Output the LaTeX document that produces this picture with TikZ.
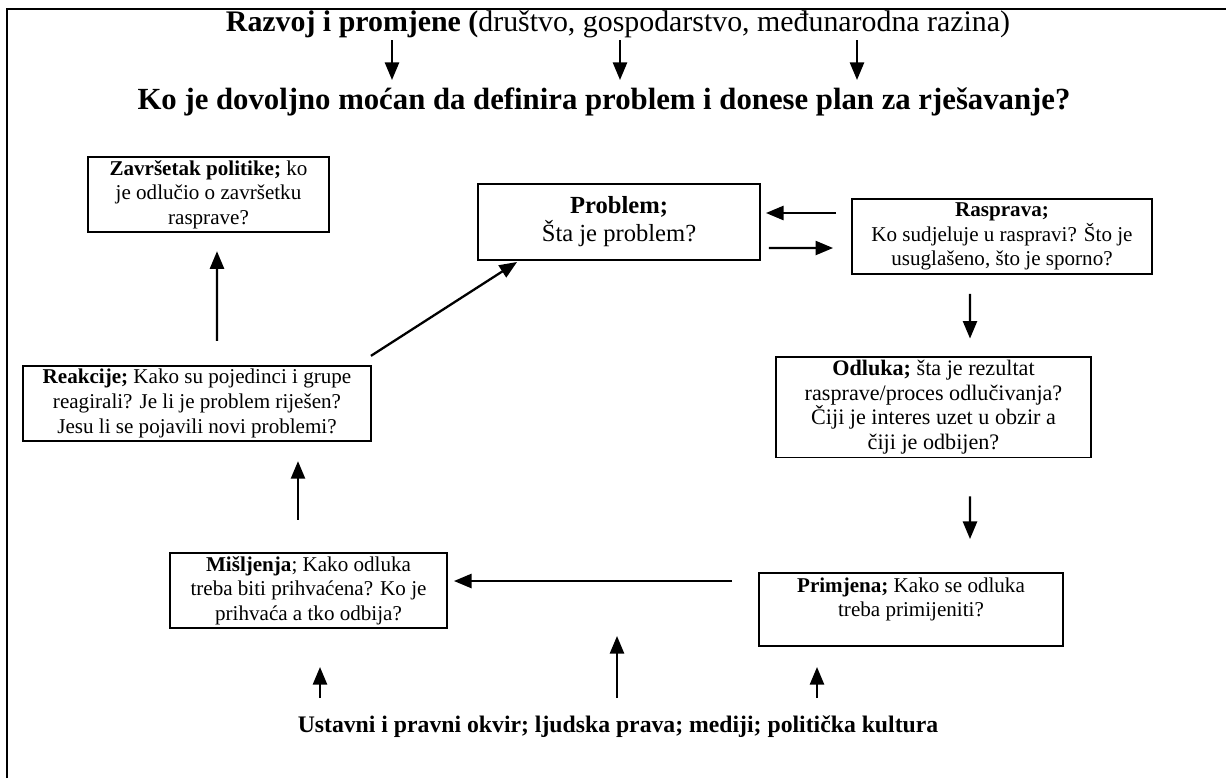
\documentclass[tikz,border=0pt]{standalone}
\usepackage{fontspec}
\setmainfont{Liberation Serif}
\usepackage{tikz}
\usetikzlibrary{shapes,decorations}
\usetikzlibrary{arrows.meta, calc}

\begin{document}
\begin{tikzpicture}[x=0.02cm, y=-0.02cm,
    box/.style={draw, line width=1.1pt, align=center, inner sep=2pt,
                font=\fontsize{12}{14}\selectfont},
    arr/.style={-{Triangle[length=10pt,width=8pt]}, line width=1.3pt}]

\useasboundingbox (0,0) rectangle (1226,778);

% Draw frame (left and top only)
\draw[line width=1.2pt] (7,778) -- (7,9) -- (1226,9);

% Titles
\node (t1) at (618,24) {\fontsize{17}{19}\selectfont\textbf{Razvoj i promjene (}društvo, gospodarstvo, međunarodna razina)};
\node (t2) at (604,102) {\fontsize{17.5}{19}\selectfont\textbf{Ko je dovoljno moćan da definira problem i donese plan za rješavanje?}};

% Boxes of the cycle
\node[box, minimum width=4.82cm, minimum height=1.5cm] (zav) at (208.5,194.5)
    {\textbf{Završetak politike;} ko\\je odlučio o završetku\\rasprave?};
\node[box, minimum width=5.64cm, minimum height=1.52cm, font=\fontsize{14}{16}\selectfont] (prob) at (619,222)
    {\textbf{Problem;}\\Šta je problem?};
\node[box, minimum width=6cm, minimum height=1.5cm] (rasp) at (1002,236.5)
    {\textbf{Rasprava;}\\Ko sudjeluje u raspravi? Što je\\usuglašeno, što je sporno?};
\node[box, minimum width=6.3cm, minimum height=2cm, font=\fontsize{12.6}{14}\selectfont] (odl) at (933.5,407)
    {\textbf{Odluka;} šta je rezultat\\rasprave/proces odlučivanja?\\Čiji je interes uzet u obzir a\\čiji je odbijen?};
\node[box, minimum width=6.08cm, minimum height=1.46cm] (prim) at (911,609.5)
    {\textbf{Primjena;} Kako se odluka\\treba primijeniti?\\\mbox{}};
\node[box, minimum width=5.54cm, minimum height=1.5cm] (misl) at (308.5,590.5)
    {\textbf{Mišljenja}; Kako odluka\\treba biti prihvaćena? Ko je\\prihvaća a tko odbija?};
\node[box, minimum width=6.96cm, minimum height=1.5cm] (reak) at (197,403.5)
    {\textbf{Reakcije;} Kako su pojedinci i grupe\\reagirali? Je li je problem riješen?\\Jesu li se pojavili novi problemi?};

% Bottom text
\node[font=\fontsize{13.5}{15}\selectfont\bfseries] (ukv) at (618,727)
    {Ustavni i pravni okvir; ljudska prava; mediji; politička kultura};

% Arrows from the first title to the second
\foreach \dx in {-226, 2, 239}
{
    \draw[arr] ($(t1.center)+(\dx,16)$) -- ($(t2.center)+(\dx+14,-22)$);
}

% Arrows of the cycle
\draw[arr] ($(reak.north)+(20,-24)$) -- ($(zav.south)+(8.5,18)$);
\draw[arr] ($(reak.north east)+(-1,-9)$) -- ($(prob.south west)+(40,1)$);
\draw[arr] ($(rasp.west)+(-15,-23.5)$) -- ($(prob.east)+(5,-9)$);
\draw[arr] ($(prob.east)+(8,26)$) -- ($(rasp.west)+(-18,11.5)$);
\draw[arr] ($(rasp.south)+(-32,19)$) -- ($(odl.north)+(36.5,-17)$);
\draw[arr] ($(odl.south)+(36.5,38)$) -- ($(prim.north)+(59,-33)$);
\draw[arr] ($(prim.west)+(-26,-28.5)$) -- ($(misl.east)+(6,-9.5)$);
\draw[arr] ($(misl.north)+(-10.5,-32)$) -- ($(reak.south)+(101,19)$);

% Arrows from the bottom text
\foreach \dx/\len in {-298/31, -1/62, 199/31}
{
    \draw[arr] ($(ukv.center)+(\dx,-29)$) -- ($(ukv.center)+(\dx,-29-\len)$);
}

\end{tikzpicture}
\end{document}
